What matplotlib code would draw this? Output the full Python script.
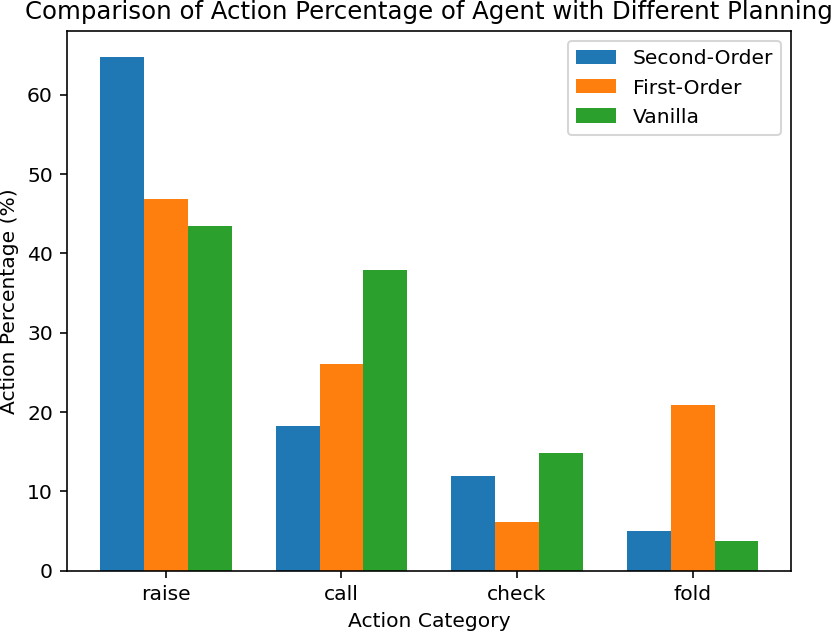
import numpy as np
import matplotlib
matplotlib.use("Agg")
import matplotlib.pyplot as plt

categorias = ['raise', 'call', 'check', 'fold']
second_order = [64.8, 18.2, 12.0, 5.0]
first_order = [46.9, 26.0, 6.2, 20.9]
vanilla = [43.4, 37.9, 14.8, 3.8]

x = np.arange(len(categorias))
ancho = 0.25

fig, ax = plt.subplots(figsize=(6.4, 4.8))
ax.bar(x - ancho, second_order, ancho, label='Second-Order')
ax.bar(x, first_order, ancho, label='First-Order')
ax.bar(x + ancho, vanilla, ancho, label='Vanilla')

ax.set_xticks(x)
ax.set_xticklabels(categorias)
ax.set_xlabel('Action Category')
ax.set_ylabel('Action Percentage (%)')
ax.set_title('Comparison of Action Percentage of Agent with Different Planning')
ax.legend()

plt.savefig("out.png", dpi=146, bbox_inches='tight', pad_inches=0.0)
